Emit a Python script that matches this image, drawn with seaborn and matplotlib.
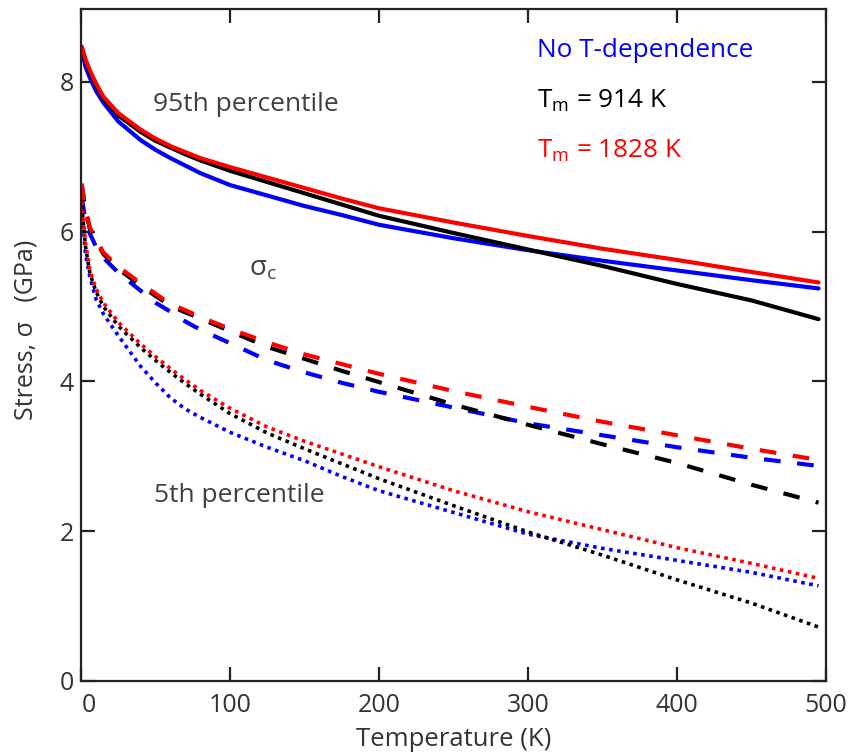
import numpy as np
import pandas as pd
import matplotlib
matplotlib.use("Agg")
import matplotlib.pyplot as plt
import matplotlib.transforms as mtransforms
import seaborn as sns

# ---- data ----
temperature = [0.5, 3, 6, 10, 15, 25, 40, 50, 60, 70, 80, 100, 125, 150, 175, 200, 250, 300, 350, 400, 450, 495]

p95_none = [8.42, 8.20, 8.05, 7.88, 7.72, 7.47, 7.22, 7.09, 6.98, 6.88, 6.78, 6.62, 6.48, 6.34, 6.22, 6.09, 5.91, 5.75, 5.61, 5.48, 5.35, 5.24]
p95_914 = [8.45, 8.28, 8.12, 7.95, 7.77, 7.55, 7.33, 7.21, 7.12, 7.03, 6.95, 6.81, 6.66, 6.51, 6.36, 6.21, 5.98, 5.76, 5.54, 5.30, 5.08, 4.83]
p95_1828 = [8.47, 8.30, 8.15, 7.98, 7.80, 7.58, 7.36, 7.24, 7.14, 7.06, 6.98, 6.86, 6.72, 6.58, 6.44, 6.31, 6.12, 5.94, 5.77, 5.62, 5.46, 5.32]

sc_none = [6.45, 6.15, 5.97, 5.80, 5.65, 5.45, 5.21, 5.05, 4.93, 4.80, 4.69, 4.51, 4.28, 4.12, 3.98, 3.86, 3.65, 3.44, 3.28, 3.12, 2.98, 2.87]
sc_914 = [6.62, 6.28, 6.03, 5.88, 5.70, 5.50, 5.28, 5.14, 5.01, 4.92, 4.84, 4.67, 4.46, 4.30, 4.14, 3.99, 3.69, 3.42, 3.16, 2.91, 2.62, 2.38]
sc_1828 = [6.64, 6.30, 6.05, 5.90, 5.72, 5.53, 5.31, 5.17, 5.03, 4.95, 4.86, 4.70, 4.52, 4.36, 4.23, 4.10, 3.87, 3.66, 3.46, 3.28, 3.10, 2.95]

p5_none = [6.30, 5.70, 5.39, 5.10, 4.90, 4.61, 4.20, 3.98, 3.78, 3.63, 3.52, 3.32, 3.12, 2.94, 2.73, 2.54, 2.25, 1.96, 1.77, 1.61, 1.45, 1.27]
p5_914 = [6.35, 5.80, 5.44, 5.20, 5.00, 4.74, 4.45, 4.28, 4.12, 3.97, 3.83, 3.57, 3.31, 3.10, 2.90, 2.70, 2.34, 1.99, 1.68, 1.35, 1.04, 0.72]
p5_1828 = [6.40, 5.85, 5.48, 5.24, 5.05, 4.79, 4.50, 4.33, 4.17, 4.02, 3.88, 3.64, 3.39, 3.20, 3.03, 2.86, 2.54, 2.26, 2.02, 1.78, 1.57, 1.37]

x_ticks = [0, 100, 200, 300, 400, 500]
y_ticks = [0, 2, 4, 6, 8]

series_names = ["No T-dependence", "T$_\\mathrm{m}$ = 914 K", "T$_\\mathrm{m}$ = 1828 K"]
series_colors = ["#0000ff", "#000000", "#ff0000"]

# ---- style ----
sns.set_theme(style="ticks")
plt.rcParams['font.family'] = ['Open Sans', 'DejaVu Sans']
plt.rcParams['mathtext.fontset'] = 'custom'
plt.rcParams['mathtext.rm'] = 'Open Sans'
plt.rcParams['mathtext.it'] = 'Open Sans'

fig = plt.figure(figsize=(8.49, 7.54), dpi=100)
ax = fig.add_axes([81/849, 1 - 681/754, (826-81)/849, (681-9)/754])

groups = [
    (p95_none, p95_914, p95_1828, "-", 3.0),
    (sc_none, sc_914, sc_1828, (0, (4, 4)), 3.0),
    (p5_none, p5_914, p5_1828, (0, (1, 1.25)), 2.6),
]
for g in groups:
    for vals, col in zip(g[:3], series_colors):
        df = pd.DataFrame({"T": temperature, "sigma": vals})
        sns.lineplot(data=df, x="T", y="sigma", ax=ax, color=col,
                     linestyle=g[3], linewidth=g[4], sort=False,
                     estimator=None)

ax.set_xlim(0, 500)
ax.set_ylim(0, 8.97)
ax.set_xticks(x_ticks)
ax.set_yticks(y_ticks)
ax.tick_params(direction="in", length=10, width=1.6, top=True, right=True,
               labelsize=18, colors="#222222", labelcolor="#333333")
ax.tick_params(axis="x", pad=9)
ax.tick_params(axis="y", pad=5)
for s in ax.spines.values():
    s.set_linewidth(1.6)
    s.set_color("#222222")

# shift the "0" x tick label slightly right, as in the reference
lbl0 = ax.get_xticklabels()[0]
lbl0.set_transform(lbl0.get_transform() + mtransforms.ScaledTranslation(6/72, 0, fig.dpi_scale_trans))

ax.set_xlabel("Temperature (K)", fontsize=18.5, color="#333333")
ax.set_ylabel("Stress, \u03c3   (GPa)", fontsize=18, color="#333333")
ax.xaxis.set_label_coords(0.5, -0.068)
ax.yaxis.set_label_coords(-0.057, 0.522)

txt_col = "#404040"
ax.text(110.7, 7.69, "95th percentile", fontsize=19, color=txt_col, ha="center", va="center")
ax.text(113, 5.5, "\u03c3$_\\mathrm{c}$", fontsize=20, color=txt_col, ha="left", va="center")
ax.text(106, 2.48, "5th percentile", fontsize=19, color=txt_col, ha="center", va="center")

for i, (name, col) in enumerate(zip(series_names, series_colors)):
    ax.text(306, 8.41 - i * 0.665, name, fontsize=18.8, color=col, ha="left", va="center")

fig.savefig("out.png", dpi=100)
